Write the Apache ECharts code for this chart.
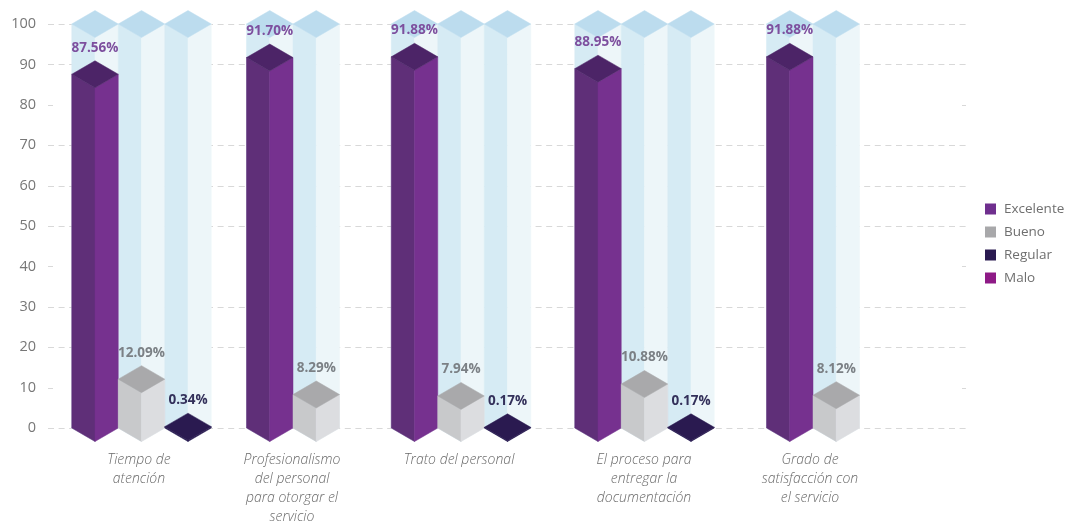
<!DOCTYPE html>
<html lang="es">
<head>
<meta charset="utf-8">
<title>Satisfacción del servicio</title>
<style>html,body{margin:0;padding:0;background:#fff}#chart{width:1070px;height:523px}</style>
<script src="https://cdn.jsdelivr.net/npm/echarts@6/dist/echarts.min.js"></script>
</head>
<body>
<div id="chart"></div>
<script>
// Survey results per aspect of the service, in percent
const categories = [
  'Tiempo de\natención',
  'Profesionalismo\ndel personal\npara otorgar el\nservicio',
  'Trato del personal',
  'El proceso para\nentregar la\ndocumentación',
  'Grado de\nsatisfacción con\nel servicio'
];
const seriesNames = ['Excelente', 'Bueno', 'Regular', 'Malo'];
const excelente = [87.56, 91.70, 91.88, 88.95, 91.88];
const bueno = [12.09, 8.29, 7.94, 10.88, 8.12];
const regular = [0.34, null, 0.17, 0.17, null];
const malo = [];
const yTicks = [0, 10, 20, 30, 40, 50, 60, 70, 80, 90, 100];
const dashedTicks = [0, 20, 30, 50, 60, 70, 90, 100];
const stubTicks = [10, 40, 80];
const trackValue = 100;

// Layout of the isometric columns, in pixels
const BAR_W = 46.5, HALF_W = BAR_W / 2, CAP = 13.5;
const groupShift = [0.5, -16, -16, -0.5, 0];
const labelShift = [-2, -17, -18, -1, -3];
const RULE_L = 48, RULE_R = 966;

const FACES = {
  track: { left: '#d6ebf4', right: '#edf6f9', top: '#bcdcee' },
  excelente: { left: '#5f2f78', right: '#76318f', top: '#4c2467', text: '#7d4f9e' },
  bueno: { left: '#c8c9cb', right: '#dcdde0', top: '#a9a9ab', text: '#7b8085' },
  regular: { left: '#2a1a50', right: '#2a1a50', top: '#2a1a50', text: '#33305a' }
};

const slotCount = i => (regular[i] == null ? 2 : 3);
const slotCentre = (api, i, slot) => {
  const cx = api.coord([i, 0])[0] + groupShift[i];
  return cx + (slot - (slotCount(i) - 1) / 2) * BAR_W;
};

// Draws one box: two side faces and a diamond cap whose centre sits at the value
function box(api, x, value, colours) {
  const y0 = api.coord([0, 0])[1];
  const yT = api.coord([0, value])[1];
  const poly = (points, fill) => ({
    type: 'polygon', shape: { points }, style: { fill, stroke: fill, lineWidth: 0.5 }
  });
  return [
    poly([[x - HALF_W, yT], [x, yT + CAP], [x, y0 + CAP], [x - HALF_W, y0]], colours.left),
    poly([[x + HALF_W, yT], [x, yT + CAP], [x, y0 + CAP], [x + HALF_W, y0]], colours.right),
    poly([[x - HALF_W, yT], [x, yT - CAP], [x + HALF_W, yT], [x, yT + CAP]], colours.top)
  ];
}

const barSeries = (name, values, slot, colours, legendColour) => ({
  name,
  type: 'custom',
  coordinateSystem: 'cartesian2d',
  itemStyle: { color: legendColour },
  clip: false,
  z: 3,
  data: values.map((v, i) => [i, v]).filter(d => d[1] != null),
  renderItem(params, api) {
    const i = api.value(0), v = api.value(1);
    const x = slotCentre(api, i, slot);
    const yT = api.coord([0, v])[1];
    return {
      type: 'group',
      children: box(api, x, v, colours).concat({
        type: 'text',
        z2: 5,
        style: {
          text: v.toFixed(2) + '%', x, y: yT - CAP - 13,
          fill: colours.text, align: 'center', verticalAlign: 'middle',
          font: '700 13.5px "Open Sans"'
        }
      })
    };
  }
});

const option = {
  backgroundColor: '#fff',
  animation: false,
  textStyle: { fontFamily: '"Open Sans"' },
  grid: { left: 57, right: 173, top: 24, bottom: 95, containLabel: false, outerBoundsMode: 'none' },
  legend: {
    data: seriesNames,
    orient: 'vertical',
    left: 985,
    top: 200,
    padding: 0,
    icon: 'rect',
    itemWidth: 11,
    itemHeight: 11,
    itemGap: 5,
    selectedMode: false,
    textStyle: { fontSize: 13.5, color: '#6f6f6f', padding: [0, 0, 0, 3], lineHeight: 18 }
  },
  xAxis: {
    type: 'category',
    data: categories.map((value, i) => ({ value, textStyle: { padding: [0, -2 * labelShift[i], 0, 0] } })),
    axisLine: { show: false },
    axisTick: { show: false },
    axisLabel: {
      interval: 0, margin: 23, fontSize: 14, fontStyle: 'italic', fontWeight: 300,
      color: '#6a6a6a', lineHeight: 19, fontFamily: '"Open Sans"'
    }
  },
  yAxis: {
    type: 'value', min: 0, max: 100, interval: 10,
    axisLine: { show: false },
    axisTick: { show: false },
    splitLine: { show: false },
    axisLabel: {
      margin: 21, fontSize: 14.5, color: '#777', padding: [0, 0, 2, 0],
      formatter: v => (yTicks.includes(v) ? String(v) : '')
    }
  },
  series: [
    // Reference rules: most values get a full dashed line, a few only end stubs
    {
      type: 'custom', silent: true, z: 1, clip: false,
      data: yTicks.map(v => [0, v]),
      renderItem(params, api) {
        const v = api.value(1), y = Math.round(api.coord([0, v])[1]) + 0.5;
        const line = (x1, x2, extra) => ({
          type: 'line', shape: { x1, y1: y, x2, y2: y },
          style: Object.assign({ stroke: '#d8d8d8', lineWidth: 1 }, extra)
        });
        if (dashedTicks.includes(v)) return line(RULE_L, RULE_R, { lineDash: [6, 4.6] });
        if (stubTicks.includes(v)) {
          return { type: 'group', children: [line(RULE_L, RULE_L + 5), line(RULE_R - 4, RULE_R)] };
        }
        return null;
      }
    },
    // Pale full-height columns behind every bar
    {
      type: 'custom', silent: true, z: 2, clip: false,
      data: categories.map((_, i) => [i, trackValue]),
      renderItem(params, api) {
        const i = api.value(0), children = [];
        for (let s = 0; s < slotCount(i); s++) {
          children.push(...box(api, slotCentre(api, i, s), api.value(1), FACES.track));
        }
        return { type: 'group', children };
      }
    },
    barSeries('Excelente', excelente, 0, FACES.excelente, '#6f2f8e'),
    barSeries('Bueno', bueno, 1, FACES.bueno, '#a8a8aa'),
    barSeries('Regular', regular, 2, FACES.regular, '#2a1a50'),
    barSeries('Malo', malo, 3, FACES.regular, '#8e1a86')
  ]
};

echarts.init(document.getElementById('chart')).setOption(option);
</script>
</body>
</html>
